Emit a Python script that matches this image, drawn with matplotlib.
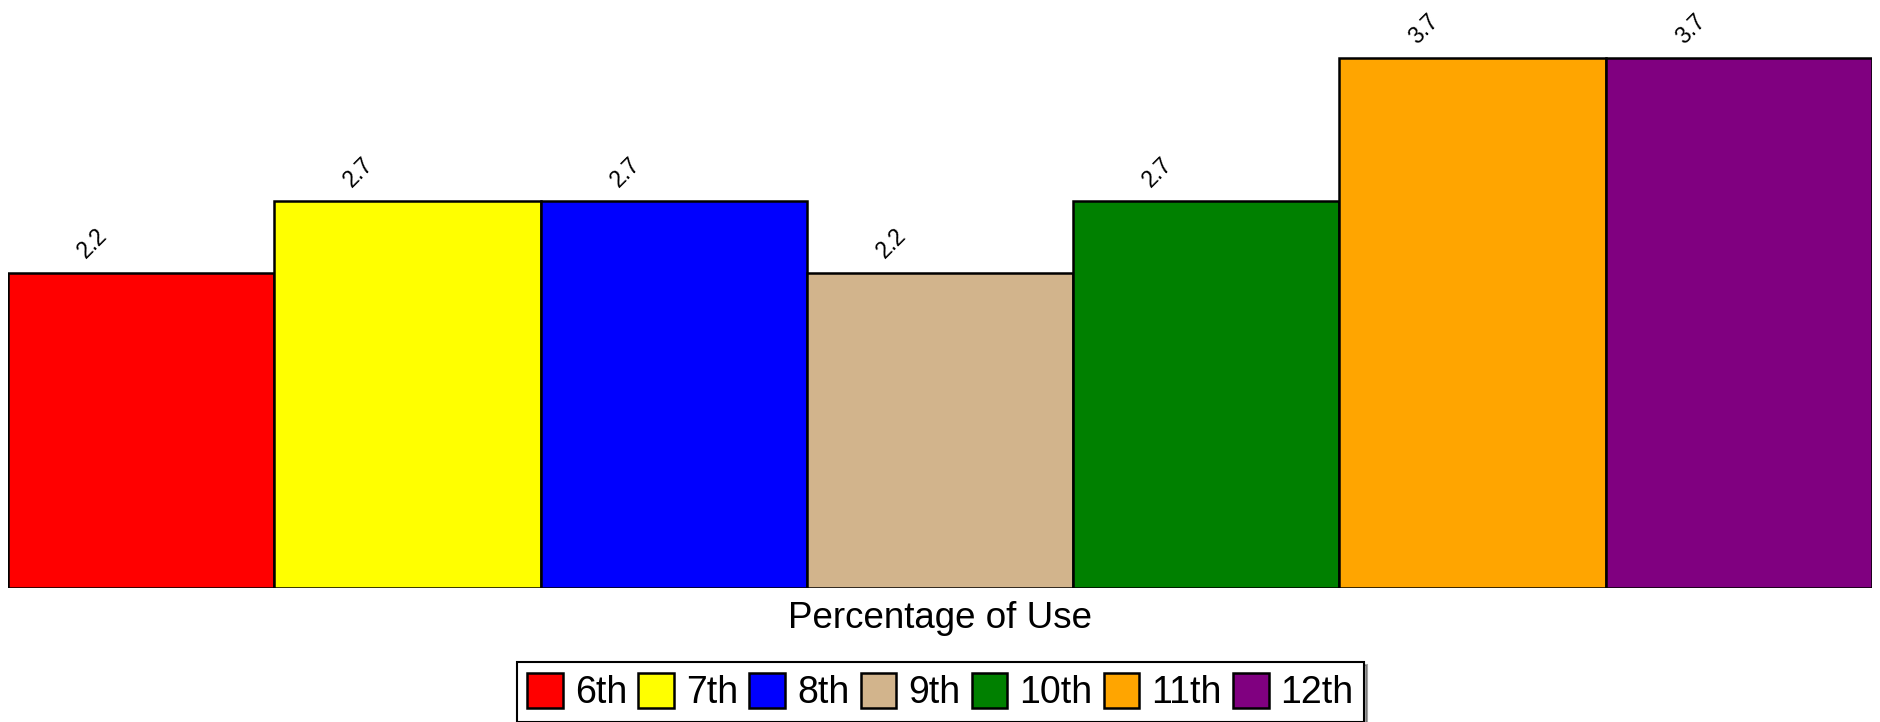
import matplotlib.pyplot as plt

grades = ['6th', '7th', '8th', '9th', '10th', '11th', '12th']
usage = [2.2, 2.7, 2.7, 2.2, 2.7, 3.7, 3.7]
colors = ['#ff0000', '#ffff00', '#0000ff', '#d2b48c', '#008000', '#ffa500', '#800080']

plt.rcParams['font.family'] = ['Liberation Sans', 'DejaVu Sans']

W, H = 1881, 722
fig = plt.figure(figsize=(W / 100, H / 100), dpi=100)

# plot area: baseline at y=588 px, bars span x 8..1872 px
ax = fig.add_axes([8 / W, (H - 588) / H, 1864 / W, 588 / H])
ax.set_xlim(-0.5, len(grades) - 0.5)
ax.set_ylim(0, 4.105)

bars = ax.bar(range(len(grades)), usage, width=1.0, color=colors,
              edgecolor='black', linewidth=1.8)

for i, v in enumerate(usage):
    ax.annotate(f'{v}', xy=(i, v), xytext=(-35, 21), textcoords='offset points',
                rotation=45, ha='center', va='center', fontsize=16.5)

ax.axis('off')

fig.text(0.5, 1 - 618 / H, 'Percentage of Use', ha='center', va='center', fontsize=26.5)

leg = fig.legend(bars, grades, loc='center', bbox_to_anchor=(0.5, 1 - 692 / H),
                 ncol=7, fontsize=27, frameon=True, fancybox=False, shadow=True,
                 handlelength=0.95, handleheight=1.05, handletextpad=0.32,
                 columnspacing=0.3, borderpad=0.28, borderaxespad=0)
leg.get_frame().set_edgecolor('black')
leg.get_frame().set_linewidth(1.5)

fig.savefig('out.png', dpi=100)
